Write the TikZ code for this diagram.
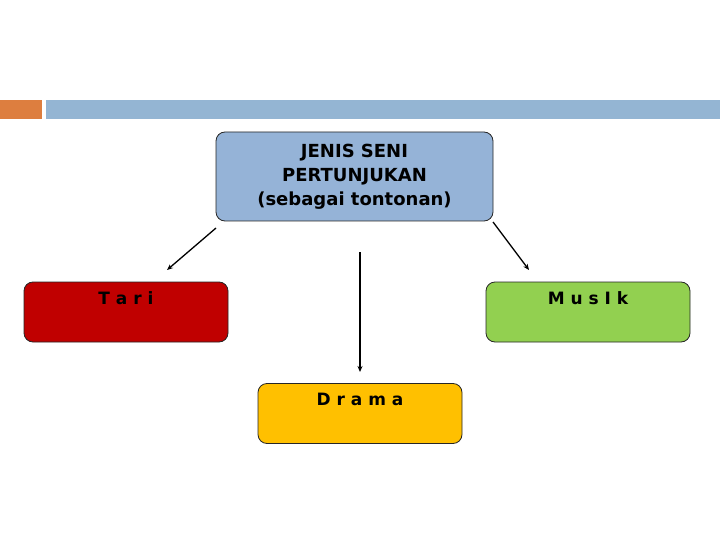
\documentclass[tikz,border=0pt]{standalone}
\usepackage{fontspec}
\setmainfont{DejaVu Sans}
\usetikzlibrary{arrows.meta}
\definecolor{barorange}{HTML}{DD7E3F}
\definecolor{barblue}{HTML}{94B5D3}
\definecolor{topblue}{HTML}{95B3D7}
\definecolor{tarired}{HTML}{C00000}
\definecolor{musikgreen}{HTML}{92D050}
\definecolor{dramagold}{HTML}{FFC000}
\tikzset{
    box/.style={draw=black!85, line width=0.8pt, rounded corners=9pt, inner sep=0pt},
    kind/.style={box, minimum width=204pt, minimum height=60pt},
    kindtext/.style={font=\bfseries\fontsize{17}{19}\selectfont, anchor=north, yshift=-6pt},
    link/.style={line width=1.3pt, -{Stealth[length=6pt, width=5pt]}}
}

\begin{document}
\begin{tikzpicture}[x=1pt, y=-1pt]
        \useasboundingbox (0,0) rectangle (720,540);
        % header bars
        \fill[barorange] (0,100) rectangle (42,119);
        \fill[barblue] (46,100) rectangle (720,119);

        \node[box, fill=topblue, minimum width=277pt, minimum height=89pt,
              align=center, font=\bfseries\fontsize{18}{24}\selectfont] (seni) at (354.5,176.5)
              {JENIS SENI\\PERTUNJUKAN\\(sebagai tontonan)};
        \node[kind, fill=tarired, label={[kindtext]north:T a r i}] (tari) at (126,312) {};
        \node[kind, fill=musikgreen, label={[kindtext]north:M u s I k}] (musik) at (588,312) {};
        \node[kind, fill=dramagold, label={[kindtext]north:D r a m a}] (drama) at (360,413.5) {};

        \coordinate (t1) at (216,228);
        \coordinate (t2) at (167,270);
        \coordinate (d1) at (360,252);
        \coordinate (d2) at (360,372);
        \coordinate (m1) at (493,222);
        \coordinate (m2) at (529,270);
        \draw[link] (t1) -- (t2);
        \draw[link] (d1) -- (d2);
        \draw[link] (m1) -- (m2);
    \end{tikzpicture}
\end{document}
